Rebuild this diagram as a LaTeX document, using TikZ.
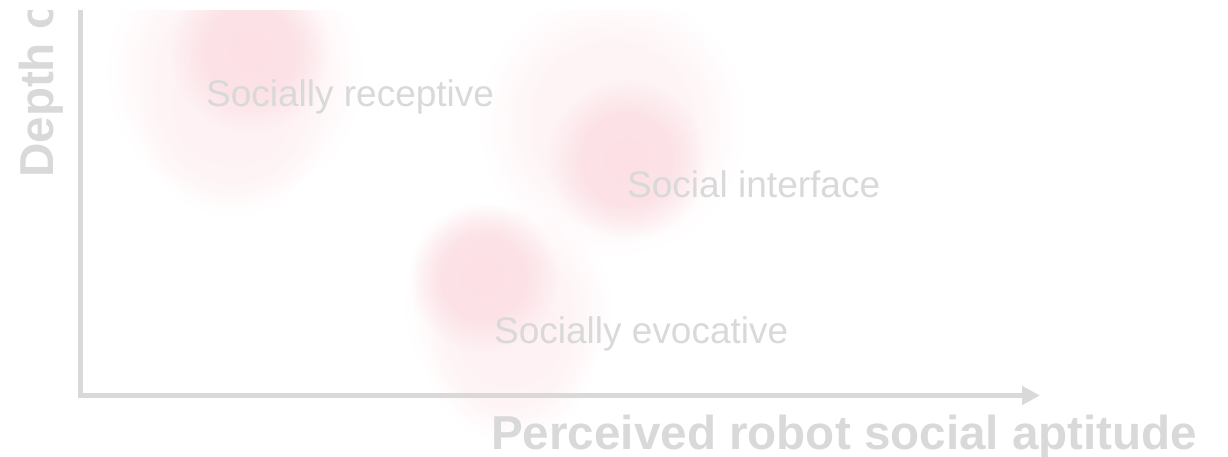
\documentclass[tikz,border=0pt]{standalone}
\usepackage{fontspec}
\setmainfont{Liberation Sans}
\usetikzlibrary{arrows.meta,fadings}
\definecolor{axisgray}{HTML}{D9D9D9}
\definecolor{blobcore}{HTML}{FCE0E5}
\definecolor{blobhalo}{HTML}{FEF2F4}
% soft radial falloff for the clouds
\pgfdeclareradialshading{blobshade}{\pgfpointorigin}{color(0bp)=(transparent!0); color(14bp)=(transparent!12); color(25bp)=(transparent!100); color(50bp)=(transparent!100)}
\pgfdeclarefading{blobfade}{\pgfuseshading{blobshade}}

\begin{document}
\begin{tikzpicture}[x=1pt,y=1pt,
  blob/.style={path fading=blobfade},
  lbl/.style={text=axisgray,font=\fontsize{37}{44}\selectfont,anchor=base west,inner sep=0pt},
  axislbl/.style={text=axisgray,font=\fontsize{47.6}{56}\selectfont\bfseries,anchor=base west,inner sep=0pt}]
  \useasboundingbox (0,0) rectangle (1228,457);
  \clip (0,0) rectangle (1228,446);
  % clouds
  \fill[blobhalo,blob] (235,385) circle (130);
  \fill[blobhalo,blob] (232,335) circle (95);
  \fill[blobcore,blob] (250,405) circle (80);
  \fill[blobhalo,blob] (612,335) circle (135);
  \fill[blobcore,blob] (627,297) circle (80);
  \fill[blobhalo,blob] (508,150) circle (105);
  \fill[blobhalo,blob] (510,100) circle (85);
  \fill[blobcore,blob] (483,180) circle (75);
  % axes
  \coordinate (origin) at (80.5,61.5);
  \coordinate (ytop) at (80.5,457);
  \coordinate (xend) at (1040,61.5);
  \draw[axisgray,line width=5.5pt,-{Triangle[length=18pt,width=18pt]}] (ytop) -- (origin) -- (xend);
  \node[axislbl] (xlabel) at (491,7) {Perceived robot social aptitude};
  \node[axislbl,rotate=90] (ylabel) at (53,279) {Depth of};
  % group labels
  \node[lbl] (receptive) at (206,350) {Socially receptive};
  \node[lbl] (interface) at (627,259) {Social interface};
  \node[lbl] (evocative) at (494,113) {Socially evocative};
\end{tikzpicture}
\end{document}
